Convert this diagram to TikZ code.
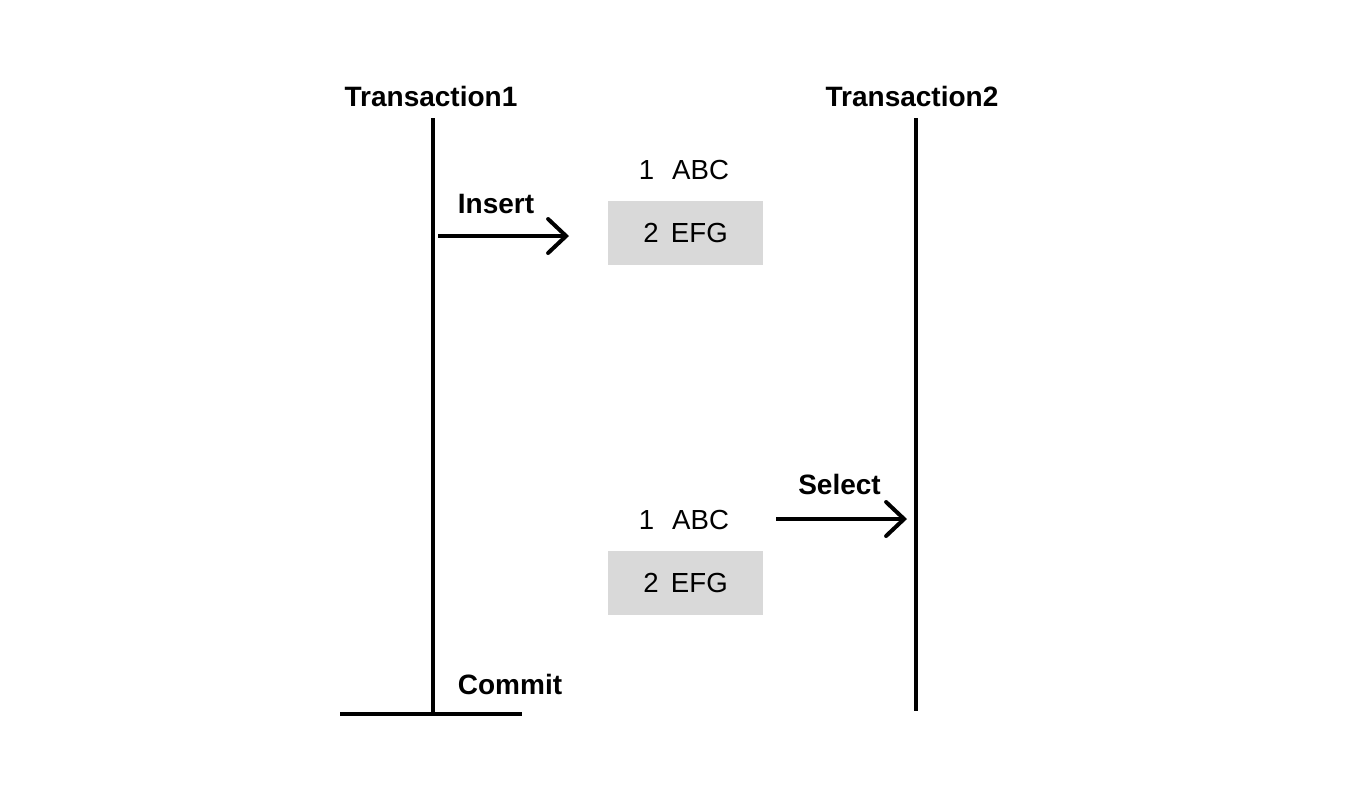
\documentclass[tikz,border=0pt]{standalone}
\usepackage{fontspec}
\setmainfont{Liberation Sans}
\usetikzlibrary{arrows.meta, positioning}
\usepackage{xcolor}
\definecolor{rowgray}{RGB}{217,217,217}
\definecolor{dark}{RGB}{0,0,0}

\begin{document}
\begin{tikzpicture}[
    x=0.5pt, y=-0.5pt,
    lifeline/.style={line width=2pt, dark},
    head/.style={font=\fontsize{14}{17}\selectfont\bfseries, anchor=base, inner sep=0pt},
    row/.style={font=\fontsize{13.8}{16}\selectfont, anchor=base, inner sep=0pt},
    newrow/.style={font=\fontsize{13.8}{16}\selectfont, fill=rowgray, minimum width=77.5pt, minimum height=32pt, inner sep=0pt},
    arr/.style={-{Straight Barb[length=9pt, width=17pt, line cap=round]}, line width=2pt, dark},
]
\useasboundingbox (0,0) rectangle (1370,810);

% transaction heads and lifelines
\node[head] (t1) at (431,106) {Transaction1};
\node[head] (t2) at (912,106) {Transaction2};
\coordinate (t1top) at (433,118);
\coordinate (t1end) at (433,714);
\coordinate (t2top) at (916,118);
\coordinate (t2end) at (916,711);
\draw[lifeline] (t1top) -- (t1end);
\draw[lifeline] (t2top) -- (t2end);

% commit bar
\coordinate (cl) at (340,714);
\coordinate (cr) at (522,714);
\draw[lifeline] (cl) -- (cr);
\node[head] (commit) at (510,694) {Commit};

% insert
\node[row] (r1a) at (684,179) {1\hspace{0.65em}ABC};
\node[newrow] (r2a) at (685.5,233) {2\hspace{0.45em}EFG};
\coordinate (insfrom) at (438,236);
\coordinate (insto) at (569,236);
\draw[arr] (insfrom) -- (insto);
\node[head] (insert) at (496,213) {Insert};

% select
\node[row] (r1b) at (684,529) {1\hspace{0.65em}ABC};
\node[newrow] (r2b) at (685.5,583) {2\hspace{0.45em}EFG};
\coordinate (selfrom) at (776,519);
\coordinate (selto) at (907,519);
\draw[arr] (selfrom) -- (selto);
\node[head] (select) at (839.5,494) {Select};

\end{tikzpicture}
\end{document}
